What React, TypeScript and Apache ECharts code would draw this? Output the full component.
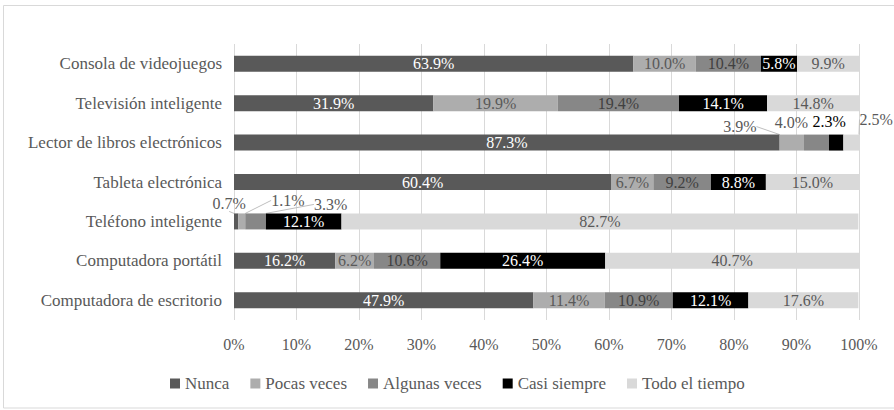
import React, { useEffect, useRef } from "react";
import * as echarts from "echarts";

const categories = [
  "Consola de videojuegos",
  "Televisión inteligente",
  "Lector de libros electrónicos",
  "Tableta electrónica",
  "Teléfono inteligente",
  "Computadora portátil",
  "Computadora de escritorio",
];
const seriesNames = ["Nunca", "Pocas veces", "Algunas veces", "Casi siempre", "Todo el tiempo"];
const nunca = [63.9, 31.9, 87.3, 60.4, 0.7, 16.2, 47.9];
const pocasVeces = [10.0, 19.9, 3.9, 6.7, 1.1, 6.2, 11.4];
const algunasVeces = [10.4, 19.4, 4.0, 9.2, 3.3, 10.6, 10.9];
const casiSiempre = [5.8, 14.1, 2.3, 8.8, 12.1, 26.4, 12.1];
const todoElTiempo = [9.9, 14.8, 2.5, 15.0, 82.7, 40.7, 17.6];
const xTicks = [0, 10, 20, 30, 40, 50, 60, 70, 80, 90, 100];

const values = [nunca, pocasVeces, algunasVeces, casiSiempre, todoElTiempo];
const colors = ["#595959", "#ADADAD", "#878787", "#000000", "#D9D9D9"];
const labelColors = ["#FFFFFF", "#595959", "#404040", "#FFFFFF", "#595959"];

// label displacement (px) for small segments: [seriesIndex, dataIndex, dx, dy, line, color]
const moved: [number, number, number, number, boolean, string][] = [
  [1, 2, -52, -16, true, "#595959"],
  [2, 2, -25, -20, false, "#595959"],
  [3, 2, -7, -21, false, "#000000"],
  [4, 2, 25, -23, true, "#595959"],
  [0, 4, -7, -18, true, "#595959"],
  [1, 4, 46, -21, true, "#595959"],
  [2, 4, 75, -17, true, "#595959"],
];

const FONT = "Liberation Serif";

export default function App() {
  const ref = useRef<HTMLDivElement>(null);
  useEffect(() => {
    document.body.style.margin = "0";
    const chart = echarts.init(ref.current!, null, { renderer: "svg" });
    const series = values.map((arr, si) => ({
      name: seriesNames[si],
      type: "bar",
      stack: "total",
      barWidth: 16,
      itemStyle: { color: colors[si] },
      label: {
        show: true,
        position: "inside",
        color: labelColors[si],
        fontFamily: FONT,
        fontSize: 16,
        formatter: (p: any) => Number(p.value).toFixed(1) + "%",
      },
      labelLine: { show: false, lineStyle: { color: "#BFBFBF", width: 1 } },
      labelLayout: (p: any) => {
        const m = moved.find((q) => q[0] === si && q[1] === p.dataIndex);
        return m ? { dx: m[2], dy: m[3] } : {};
      },
      data: arr.map((v, di) => {
        const m = moved.find((q) => q[0] === si && q[1] === di);
        if (!m) return v;
        return {
          value: v,
          label: { color: m[5] },
          labelLine: { show: m[4], lineStyle: { color: "#BFBFBF", width: 1 } },
        };
      }),
    }));
    chart.setOption({
      animation: false,
      textStyle: { fontFamily: FONT },
      grid: { left: 234, right: 35, top: 44, bottom: 90, containLabel: false },
      xAxis: {
        type: "value",
        min: xTicks[0],
        max: xTicks[xTicks.length - 1],
        interval: 10,
        axisLine: { show: false },
        axisTick: { show: false },
        splitLine: { show: true, lineStyle: { color: "#D9D9D9", width: 1 } },
        axisLabel: {
          formatter: "{value}%",
          color: "#595959",
          fontFamily: FONT,
          fontSize: 16,
          margin: 16,
        },
      },
      yAxis: {
        type: "category",
        data: categories,
        inverse: true,
        axisLine: { show: false },
        axisTick: { show: false },
        axisLabel: { color: "#595959", fontFamily: FONT, fontSize: 17, margin: 12 },
      },
      legend: {
        bottom: 13,
        left: 165,
        itemWidth: 10,
        itemHeight: 10,
        itemGap: 21,
        icon: "rect",
        textStyle: { color: "#595959", fontFamily: FONT, fontSize: 17 },
        data: seriesNames,
      },
      graphic: [
        {
          type: "rect",
          shape: { x: 3.5, y: 5.5, width: 900, height: 402.5 },
          style: { fill: "none", stroke: "#D9D9D9", lineWidth: 1 },
          silent: true,
        },
      ],
      series,
    });
    return () => chart.dispose();
  }, []);
  return (
    <div
      ref={ref}
      style={{ position: "absolute", left: 0, top: 0, width: 894, height: 410, background: "#fff" }}
    />
  );
}
